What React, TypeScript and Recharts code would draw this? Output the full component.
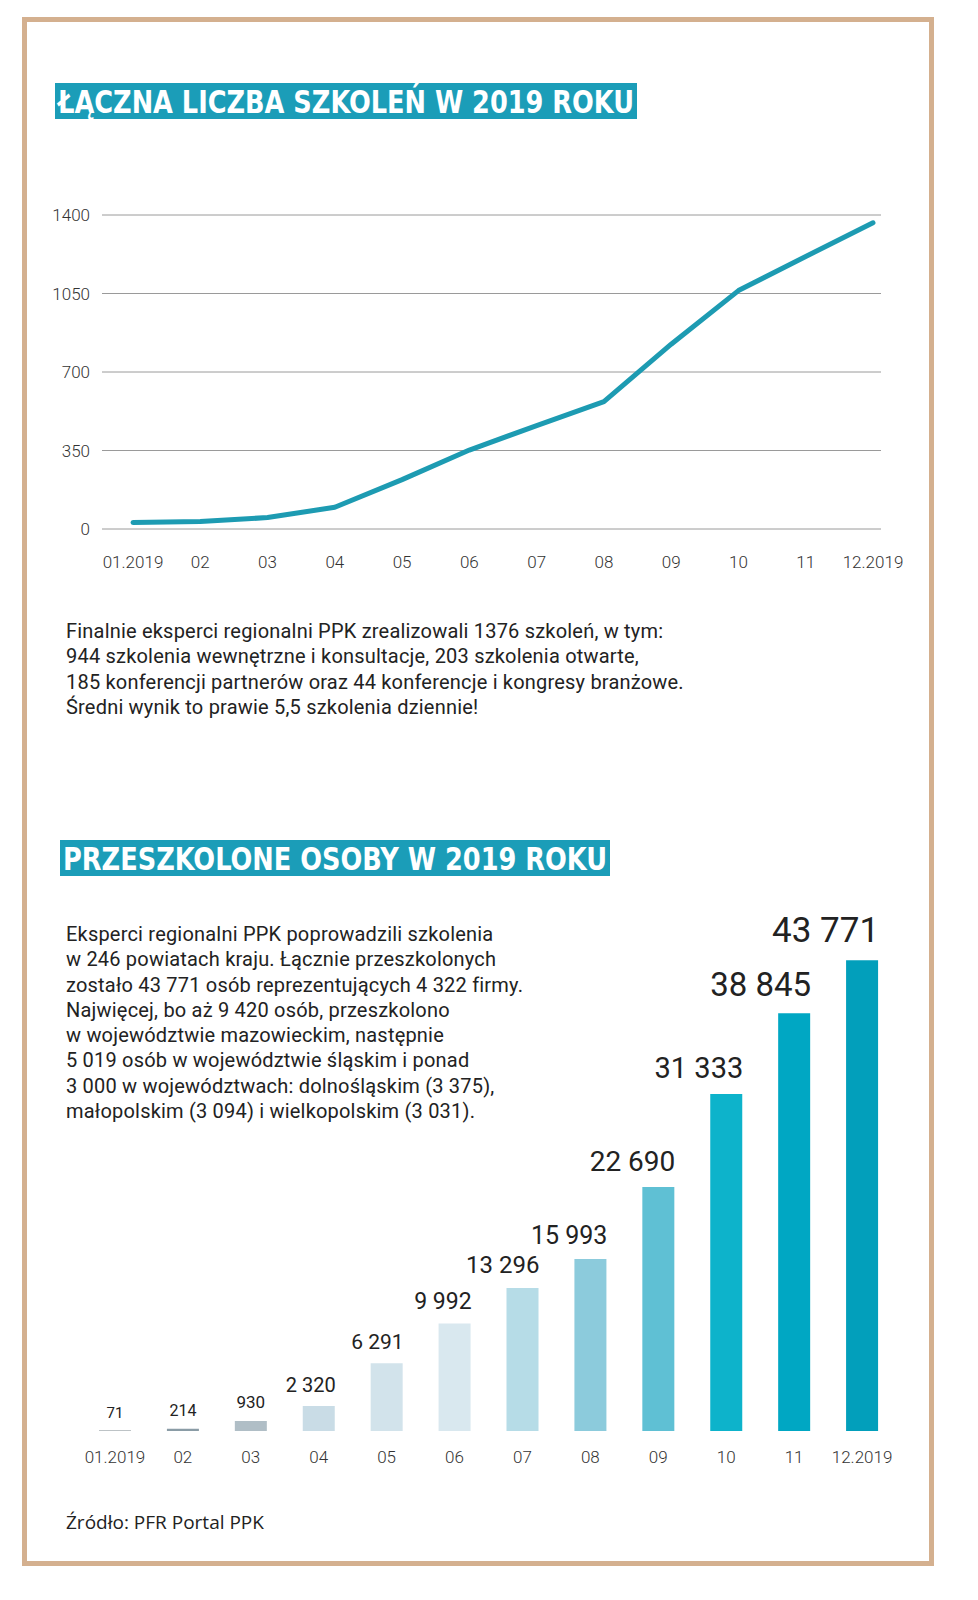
import React from 'react';
import {
    LineChart,
    Line,
    BarChart,
    Bar,
    Cell,
    LabelList,
    XAxis,
    YAxis,
    CartesianGrid
} from 'recharts';

// months shown on both charts
const months = ['01.2019', '02', '03', '04', '05', '06', '07', '08', '09', '10', '11', '12.2019'];

// cumulative number of trainings
const trainings = [29, 33, 51, 97, 220, 352, 461, 568, 824, 1063, 1215, 1365];
const trainingTicks = [0, 350, 700, 1050, 1400];

// cumulative number of trained people
const trained = [71, 214, 930, 2320, 6291, 9992, 13296, 15993, 22690, 31333, 38845, 43771];

const barColors = [
    '#a9b1b5', '#8a9ca6', '#b0bec6', '#c9dce6', '#d2e3eb', '#d9e8ef',
    '#b6dce7', '#8ccbdc', '#5fc0d4', '#0db3cb', '#00a7c3', '#029fbb'
];
const labelSizes = [15, 16, 17, 20, 21, 23, 24, 25, 28, 29, 33, 35];

const paragraph1 = [
    'Finalnie eksperci regionalni PPK zrealizowali 1376 szkoleń, w tym:',
    '944 szkolenia wewnętrzne i konsultacje, 203 szkolenia otwarte,',
    '185 konferencji partnerów oraz 44 konferencje i kongresy branżowe.',
    'Średni wynik to prawie 5,5 szkolenia dziennie!'
];

const paragraph2 = [
    'Eksperci regionalni PPK poprowadzili szkolenia',
    'w 246 powiatach kraju. Łącznie przeszkolonych',
    'zostało 43 771 osób reprezentujących 4 322 firmy.',
    'Najwięcej, bo aż 9 420 osób, przeszkolono',
    'w województwie mazowieckim, następnie',
    '5 019 osób w województwie śląskim i ponad',
    '3 000 w województwach: dolnośląskim (3 375),',
    'małopolskim (3 094) i wielkopolskim (3 031).'
];

const lineData = months.map((m, i) => ({ month: m, value: trainings[i] }));
const barData = months.map((m, i) => ({ month: m, value: trained[i] }));

const TEAL = '#1b9db8';
const tickFont = { fontFamily: 'Roboto', fontWeight: 300, fontSize: 17, fill: '#333' };

const fmt = (v: number) => String(v).replace(/\B(?=(\d{3})+(?!\d))/g, ' ');

function Title({ text, x, y, w }: { text: string; x: number; y: number; w: number }) {
    return (
        <svg style={{ position: 'absolute', left: x, top: y, overflow: 'visible' }} width={w} height={36}>
            <rect width={w} height={36} fill={TEAL} />
            <text
                x={3}
                y={30}
                textLength={w - 6}
                lengthAdjust="spacingAndGlyphs"
                fill="#fff"
                fontFamily="'DejaVu Sans Condensed', 'DejaVu Sans'"
                fontWeight="bold"
                fontSize={32}
            >
                {text}
            </text>
        </svg>
    );
}

function Paragraph({ lines, top }: { lines: string[]; top: number }) {
    return (
        <div
            style={{
                position: 'absolute',
                left: 66,
                top,
                fontFamily: 'Roboto',
                fontSize: 20,
                lineHeight: '25.3px',
                color: '#222',
                letterSpacing: 0.2,
                whiteSpace: 'nowrap'
            }}
        >
            {lines.map((l) => (
                <div key={l}>{l}</div>
            ))}
        </div>
    );
}

const renderBarLabel = (props: any) => {
    const { x, y, width, value, index } = props;
    const fs = labelSizes[index];
    const right = index >= 3;
    return (
        <text
            x={right ? x + width + 1 : x + width / 2}
            y={y - 8 - fs * 0.28}
            textAnchor={right ? 'end' : 'middle'}
            fontFamily="Roboto"
            fontSize={fs}
            fill="#222"
        >
            {fmt(value)}
        </text>
    );
};

export default function App() {
    return (
        <div style={{ position: 'absolute', left: 0, top: 0, width: 978, height: 1600, background: '#fff' }}>
            <div
                style={{
                    position: 'absolute',
                    left: 22,
                    top: 17,
                    width: 902,
                    height: 1539,
                    border: '5px solid #d4b08f'
                }}
            />

            <Title text="ŁĄCZNA LICZBA SZKOLEŃ W 2019 ROKU" x={55} y={83} w={582} />

            <div style={{ position: 'absolute', left: 0, top: 0 }}>
                <LineChart width={978} height={600} data={lineData} margin={{ top: 215, right: 97, left: 0, bottom: 31 }}>
                    <CartesianGrid horizontal vertical={false} stroke="#9a9a9a" strokeWidth={1} />
                    <XAxis
                        dataKey="month"
                        axisLine={false}
                        tickLine={false}
                        tickMargin={21}
                        height={40}
                        interval={0}
                        padding={{ left: 31, right: 8 }}
                        tick={tickFont}
                    />
                    <YAxis
                        domain={[0, 1400]}
                        ticks={trainingTicks}
                        width={102}
                        axisLine={false}
                        tickLine={false}
                        tickMargin={6}
                        tick={tickFont}
                    />
                    <Line
                        type="linear"
                        dataKey="value"
                        stroke="#1d9bb2"
                        strokeWidth={5}
                        strokeLinecap="round"
                        strokeLinejoin="round"
                        dot={false}
                        isAnimationActive={false}
                    />
                </LineChart>
            </div>

            <Paragraph lines={paragraph1} top={619} />

            <Title text="PRZESZKOLONE OSOBY W 2019 ROKU" x={60} y={840} w={550} />

            <Paragraph lines={paragraph2} top={922} />

            <div style={{ position: 'absolute', left: 0, top: 880 }}>
                <BarChart width={978} height={620} data={barData} margin={{ top: 67, right: 82, left: 81, bottom: 29 }}>
                    <XAxis
                        dataKey="month"
                        axisLine={false}
                        tickLine={false}
                        tickMargin={14}
                        height={40}
                        interval={0}
                        tick={tickFont}
                    />
                    <YAxis hide domain={[0, 45000]} />
                    <Bar dataKey="value" barSize={32} isAnimationActive={false}>
                        {barData.map((d, i) => (
                            <Cell key={d.month} fill={barColors[i]} />
                        ))}
                        <LabelList dataKey="value" content={renderBarLabel} />
                    </Bar>
                </BarChart>
            </div>

            <div
                style={{
                    position: 'absolute',
                    left: 66,
                    top: 1509,
                    fontFamily: "'Open Sans'",
                    fontSize: 19,
                    color: '#222'
                }}
            >
                Źródło: PFR Portal PPK
            </div>
        </div>
    );
}
